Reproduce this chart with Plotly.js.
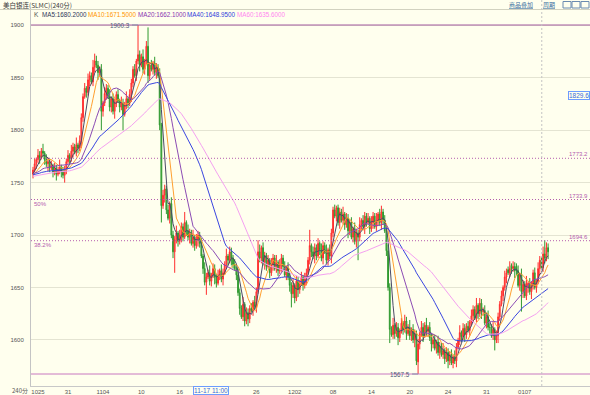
<!DOCTYPE html>
<html><head><meta charset="utf-8">
<script src="https://cdn.plot.ly/plotly-3.0.1.min.js"></script>
<style>html,body{margin:0;padding:0;background:#ffffee;}#chart{width:590px;height:395px;}</style>
</head><body><div id="chart"></div>
<script>
// ---- data (240-minute bars) ----
const histCloses = [1748,1752,1750,1755,1753,1758,1756,1760,1757,1754,
1750,1746,1749,1752,1756,1759,1755,1751,1748,1753,
1757,1761,1758,1755,1752,1756,1760,1763,1759,1755,
1751,1754,1758,1762,1760,1756,1752,1749,1753,1757,
1761,1764,1760,1757,1754,1758,1762,1765,1761,1758,
1755,1752,1756,1760,1758,1754,1757,1760,1758];

const opens = [1758,1762,1768,1772,1776,1774,1780,1778,1772,1768,
1770,1764,1766,1760,1763,1758,1762,1765,1760,1757,
1762,1770,1776,1773,1780,1784,1779,1786,1783,1790,
1812,1832,1840,1836,1848,1852,1846,1860,1866,1862,
1855,1858,1818,1826,1835,1840,1832,1822,1830,1818,
1826,1834,1828,1822,1826,1815,1824,1830,1826,1834,
1845,1858,1852,1866,1872,1862,1870,1858,1866,1880,
1852,1862,1858,1864,1855,1860,1852,1805,1728,1738,
1744,1724,1716,1730,1700,1684,1696,1702,1694,1700,
1708,1698,1712,1704,1698,1702,1692,1698,1690,1696,
1700,1692,1680,1668,1655,1660,1664,1656,1662,1668,
1660,1654,1662,1666,1658,1664,1672,1680,1676,1684,
1678,1672,1668,1662,1645,1630,1622,1634,1618,1626,
1620,1630,1628,1636,1632,1646,1684,1678,1688,1674,
1680,1670,1676,1664,1672,1678,1668,1674,1666,1672,
1678,1670,1662,1668,1660,1652,1644,1652,1640,1656,
1648,1654,1660,1652,1658,1664,1676,1690,1684,1680,
1688,1680,1692,1686,1678,1690,1684,1676,1686,1680,
1702,1724,1718,1726,1712,1722,1714,1720,1710,1716,
1704,1712,1698,1706,1694,1702,1698,1710,1714,1708,
1718,1712,1716,1706,1712,1718,1708,1714,1720,1712,
1722,1714,1704,1685,1650,1610,1605,1614,1606,1612,
1602,1608,1616,1610,1618,1606,1612,1604,1610,1600,
1606,1579,1596,1606,1612,1604,1614,1608,1612,1602,
1596,1600,1592,1598,1588,1594,1586,1590,1582,1588,
1580,1586,1578,1584,1580,1593,1599,1607,1603,1611,
1605,1613,1609,1617,1623,1629,1621,1633,1625,1635,
1627,1628,1616,1622,1612,1612,1604,1610,1600,1604,
1622,1634,1642,1650,1660,1667,1664,1671,1668,1670,
1670,1666,1652,1662,1646,1653,1642,1650,1654,1646,
1652,1664,1650,1656,1668,1676,1669,1682,1678,1688];

const highs = [1765,1773,1774,1782,1780,1783,1787,1780,1777,1774,
1773,1771,1768,1769,1767,1765,1772,1767,1765,1766,
1773,1781,1778,1786,1788,1787,1793,1788,1795,1816,
1835,1845,1842,1854,1856,1855,1867,1873,1871,1866,
1861,1863,1828,1841,1844,1843,1839,1832,1835,1830,
1837,1839,1830,1832,1830,1827,1837,1832,1839,1849,
1861,1863,1868,1900.3,1876,1873,1877,1868,1885,1898,
1865,1867,1866,1870,1864,1863,1859,1807,1743,1748,
1747,1729,1732,1736,1704,1699,1709,1704,1705,1712,
1711,1722,1714,1710,1706,1705,1705,1700,1701,1704,
1703,1697,1682,1674,1664,1667,1671,1664,1673,1672,
1663,1667,1668,1672,1668,1675,1687,1682,1689,1688,
1681,1677,1670,1668,1649,1633,1641,1636,1631,1630,
1633,1635,1638,1642,1650,1695,1691,1690,1693,1684,
1683,1681,1678,1678,1682,1681,1681,1676,1677,1682,
1681,1675,1670,1674,1664,1655,1659,1654,1661,1660,
1657,1665,1662,1664,1668,1679,1705,1692,1689,1692,
1691,1697,1694,1692,1694,1693,1691,1688,1691,1706,
1727,1729,1728,1729,1726,1725,1727,1722,1721,1720,
1715,1717,1708,1712,1706,1705,1717,1716,1719,1722,
1721,1721,1718,1718,1722,1721,1721,1722,1725,1728,
1725,1719,1706,1691,1654,1613,1621,1616,1617,1616,
1611,1621,1618,1624,1622,1615,1619,1612,1615,1610,
1609,1601,1608,1618,1616,1617,1621,1614,1617,1606,
1603,1605,1600,1604,1598,1597,1597,1592,1593,1592,
1589,1591,1586,1590,1597,1602,1614,1609,1616,1615,
1616,1618,1619,1629,1633,1632,1640,1635,1640,1639,
1631,1633,1624,1628,1616,1615,1617,1612,1609,1626,
1637,1647,1652,1666,1668,1670,1675,1673,1675,1674,
1673,1671,1664,1668,1657,1656,1661,1656,1659,1656,
1667,1669,1658,1674,1680,1679,1689,1695,1693,1692];

const lows = [1754,1760,1763,1769,1768,1772,1774,1767,1765,1761,
1760,1762,1755,1757,1752,1756,1758,1755,1754,1750,
1758,1768,1768,1770,1774,1777,1775,1778,1780,1783,
1808,1830,1831,1833,1842,1844,1842,1855,1859,1848,
1851,1800,1813,1823,1829,1830,1818,1817,1815,1811,
1822,1826,1817,1819,1800,1813,1820,1821,1823,1827,
1841,1850,1847,1863,1856,1860,1854,1853,1863,1845,
1848,1856,1853,1852,1849,1850,1800,1712,1725,1731,
1720,1714,1711,1697,1678,1664,1692,1689,1691,1693,
1694,1696,1699,1695,1692,1690,1688,1685,1687,1689,
1688,1678,1663,1652,1643,1658,1652,1651,1659,1653,
1650,1652,1657,1655,1652,1662,1668,1671,1673,1671,
1668,1666,1657,1642,1624,1620,1618,1613,1615,1613,
1616,1626,1623,1629,1626,1644,1674,1673,1671,1667,
1666,1668,1659,1661,1666,1666,1664,1661,1663,1665,
1666,1660,1657,1657,1646,1631,1640,1635,1637,1641,
1644,1652,1647,1649,1652,1662,1672,1679,1677,1673,
1676,1678,1681,1675,1672,1682,1672,1671,1677,1673,
1698,1716,1713,1709,1706,1712,1710,1705,1707,1697,
1700,1696,1693,1691,1688,1676,1694,1705,1705,1701,
1708,1710,1701,1703,1706,1706,1704,1709,1709,1705,
1710,1702,1680,1647,1597,1603,1601,1601,1603,1595,
1598,1606,1605,1607,1600,1604,1600,1599,1597,1593,
1576,1567.5,1591,1603,1598,1602,1604,1603,1599,1589,
1592,1590,1587,1585,1582,1584,1582,1577,1579,1573,
1576,1576,1573,1577,1574,1591,1595,1598,1600,1598,
1601,1607,1604,1614,1617,1619,1617,1620,1622,1620,
1623,1614,1611,1609,1606,1602,1600,1590,1597,1597,
1618,1632,1637,1647,1654,1662,1660,1663,1665,1659,
1662,1650,1647,1627,1640,1640,1638,1645,1643,1639,
1648,1648,1645,1653,1662,1667,1665,1673,1675,1677];

const closes = [1762,1768,1772,1776,1774,1780,1778,1772,1768,1770,
1764,1766,1760,1763,1758,1762,1765,1760,1757,1762,
1770,1776,1773,1780,1784,1779,1786,1783,1790,1812,
1832,1840,1836,1848,1852,1846,1860,1866,1862,1855,
1858,1818,1826,1835,1840,1832,1822,1830,1818,1826,
1834,1828,1822,1826,1815,1824,1830,1826,1834,1845,
1858,1852,1866,1872,1862,1870,1858,1866,1880,1852,
1862,1858,1864,1855,1860,1852,1805,1728,1738,1744,
1724,1716,1730,1700,1684,1696,1702,1694,1700,1708,
1698,1712,1704,1698,1702,1692,1698,1690,1696,1700,
1692,1680,1668,1655,1660,1664,1656,1662,1668,1660,
1654,1662,1666,1658,1664,1672,1680,1676,1684,1678,
1672,1668,1662,1645,1630,1622,1634,1618,1626,1620,
1630,1628,1636,1632,1646,1684,1678,1688,1674,1680,
1670,1676,1664,1672,1678,1668,1674,1666,1672,1678,
1670,1662,1668,1660,1652,1644,1652,1640,1656,1648,
1654,1660,1652,1658,1664,1676,1690,1684,1680,1688,
1680,1692,1686,1678,1690,1684,1676,1686,1680,1702,
1724,1718,1726,1712,1722,1714,1720,1710,1716,1704,
1712,1698,1706,1694,1702,1698,1710,1714,1708,1718,
1712,1716,1706,1712,1718,1708,1714,1720,1712,1722,
1714,1704,1685,1650,1610,1605,1614,1606,1612,1602,
1608,1616,1610,1618,1606,1612,1604,1610,1600,1606,
1580,1596,1606,1612,1604,1614,1608,1612,1602,1596,
1600,1592,1598,1588,1594,1586,1590,1582,1588,1580,
1586,1578,1584,1580,1593,1599,1607,1603,1611,1605,
1613,1609,1617,1623,1629,1621,1633,1625,1635,1627,
1628,1616,1622,1612,1612,1604,1610,1600,1604,1622,
1634,1642,1650,1660,1664,1664,1668,1668,1670,1666,
1666,1652,1662,1646,1653,1642,1654,1654,1646,1652,
1664,1650,1656,1668,1676,1669,1682,1678,1688,1684];

const tickBars   = [3, 21, 42, 65, 88, 134, 157, 180, 203, 226, 249, 272, 295];
const tickLabels = ['1025','31','1104','10','16','26','1202','08','14','20','24','31','0107'];

const maPeriods = [5, 10, 20, 40, 60];
const maLegend  = ['MA5:1680.2000','MA10:1671.5000','MA20:1662.1000','MA40:1648.9500','MA60:1635.6000'];

const highValue = 1900.3, lowValue = 1567.5;
const fibLevels = [1773.2, 1733.9, 1694.6];
const fibLabels = ['', '50%', '38.2%'];
const highBar = 63, lowBar = 231, crossBar = 305.2;
const crossPrice = '1829.6', crossTime = '11-17 11:00';

// ---- build ----
const bars = closes.map((_, i) => i);
const all = histCloses.concat(closes);
function movingAverage(n) {
  return closes.map((_, i) => {
    const end = i + histCloses.length;
    let s = 0;
    for (let k = end - n + 1; k <= end; k++) s += all[k];
    return s / n;
  });
}
const maLineColors = ['#4a4a66', '#ffa030', '#8c4cb4', '#3a46e0', '#f4a0f0'];
const maTextColors = ['#2e3858', '#ff9500', '#8a36b0', '#3040dc', '#ff86ee'];

const traces = [{
  type: 'candlestick', x: bars, open: opens, high: highs, low: lows, close: closes,
  increasing: {line: {color: '#ff2e2e', width: 1}, fillcolor: '#ff7a7a'},
  decreasing: {line: {color: '#2e992e', width: 1}, fillcolor: '#74bd6a'},
  whiskerwidth: 0, hoverinfo: 'skip', showlegend: false
}];
maPeriods.forEach((n, k) => traces.push({
  type: 'scatter', mode: 'lines', x: bars, y: movingAverage(n),
  line: {color: maLineColors[k], width: 1}, hoverinfo: 'skip', showlegend: false
}));

const W = 590, H = 395, ML = 31, MT = 10, MB = 9;
const PW = W - ML, PH = H - MT - MB;
const px = x => (x - ML) / PW;
const py = y => (H - MB - y) / PH;
const small = {family: 'Liberation Sans, Arial, sans-serif', size: 6, color: '#555555'};
const fibColor = '#b45cae';

const annotations = [
  {text: '美白银连(SLMC)(240分)', xref: 'paper', yref: 'paper', x: px(1), y: py(5), xanchor: 'left', yanchor: 'middle', showarrow: false,
   font: {family: 'Noto Sans CJK SC', size: 6.5, color: '#3a3a3a'}},
  {text: '<span style="text-decoration:underline">商品叠加</span>', xref: 'paper', yref: 'paper', x: px(507), y: py(5), xanchor: 'left', yanchor: 'middle', showarrow: false,
   font: {family: 'Noto Sans CJK SC', size: 6, color: '#3b6fa0'}},
  {text: '<span style="text-decoration:underline">周期</span>', xref: 'paper', yref: 'paper', x: px(541), y: py(5), xanchor: 'left', yanchor: 'middle', showarrow: false,
   font: {family: 'Noto Sans CJK SC', size: 6, color: '#3b6fa0'}},
  {text: 'K', xref: 'paper', yref: 'paper', x: px(32), y: py(14.5), xanchor: 'left', yanchor: 'middle', showarrow: false,
   font: {family: 'Liberation Sans', size: 6.5, color: '#555'}}
];
const legendX = [40, 86, 136, 185, 235];
maLegend.forEach((t, k) => annotations.push({text: t, xref: 'paper', yref: 'paper', x: px(legendX[k]), y: py(14.5),
  xanchor: 'left', yanchor: 'middle', showarrow: false, font: {family: 'Liberation Sans', size: 6.3, color: maTextColors[k]}}));

annotations.push({text: String(highValue), xref: 'x', yref: 'y', x: highBar, y: highValue, showarrow: true, arrowhead: 0, arrowwidth: 1,
  arrowcolor: '#8890a8', ax: -6, ay: 0, xanchor: 'right', yanchor: 'middle', font: {family: 'Liberation Sans', size: 6.3, color: '#4d5a78'}});
annotations.push({text: String(lowValue), xref: 'x', yref: 'y', x: lowBar, y: lowValue, showarrow: true, arrowhead: 0, arrowwidth: 1,
  arrowcolor: '#8890a8', ax: -6, ay: 0, xanchor: 'right', yanchor: 'middle', font: {family: 'Liberation Sans', size: 6.3, color: '#4d5a78'}});

fibLevels.forEach((v, k) => {
  annotations.push({text: v.toFixed(1), xref: 'paper', yref: 'y', x: px(589), y: v, xanchor: 'right', yanchor: 'bottom', showarrow: false,
    borderpad: 0, font: {family: 'Liberation Sans', size: 6, color: fibColor}});
  if (fibLabels[k]) annotations.push({text: fibLabels[k], xref: 'paper', yref: 'y', x: px(33), y: v, xanchor: 'left', yanchor: 'top', showarrow: false,
    borderpad: 0, font: {family: 'Liberation Sans', size: 6, color: fibColor}});
});

annotations.push({text: crossPrice, xref: 'paper', yref: 'y', x: px(589.5), y: 1833.5, xanchor: 'right', yanchor: 'middle', showarrow: false,
  bordercolor: '#6d9cff', borderwidth: 1, borderpad: 0, bgcolor: '#ffffee', font: {family: 'Liberation Sans', size: 6.5, color: '#3a6ad8'}});
annotations.push({text: crossTime, xref: 'paper', yref: 'paper', x: px(211), y: py(390), xanchor: 'center', yanchor: 'middle', showarrow: false,
  bordercolor: '#6d9cff', borderwidth: 1, borderpad: 0, bgcolor: '#ffffee', font: {family: 'Liberation Sans', size: 6.5, color: '#3a6ad8'}});
annotations.push({text: '240分', xref: 'paper', yref: 'paper', x: px(30), y: py(390), xanchor: 'right', yanchor: 'middle', showarrow: false,
  font: {family: 'Noto Sans CJK SC', size: 6, color: '#555'}});

const shapes = [
  {type: 'line', xref: 'paper', yref: 'paper', x0: px(0), x1: 1, y0: py(9.5), y1: py(9.5), line: {color: '#d2d2c0', width: 1}},
  {type: 'line', xref: 'paper', yref: 'y', x0: 0, x1: 1, y0: highValue, y1: highValue, line: {color: '#a35aa0', width: 1}},
  {type: 'line', xref: 'paper', yref: 'y', x0: 0, x1: 1, y0: lowValue, y1: lowValue, line: {color: '#c878c0', width: 1}},
  {type: 'line', xref: 'x', yref: 'paper', x0: crossBar, x1: crossBar, y0: 0, y1: py(0), line: {color: '#c4c4c4', width: 1, dash: '2px,2px'}}
];
fibLevels.forEach(v => shapes.push({type: 'line', xref: 'paper', yref: 'y', x0: 0, x1: 1, y0: v, y1: v,
  line: {color: fibColor, width: 1, dash: '1px,2px'}}));
[[563, 571], [572, 580], [581, 589]].forEach(([a, b]) => shapes.push({type: 'rect', xref: 'paper', yref: 'paper',
  x0: px(a), x1: px(b), y0: py(8), y1: py(1.5), line: {color: '#6b8bb0', width: 1}, fillcolor: 'rgba(0,0,0,0)'}));

const stepPx = 1.667, firstPx = 33;
const layout = {
  width: W, height: H, margin: {l: ML, r: 0, t: MT, b: MB, pad: 0},
  paper_bgcolor: '#ffffee', plot_bgcolor: '#ffffee', showlegend: false, hovermode: false, dragmode: false,
  xaxis: {type: 'linear', range: [(ML - firstPx) / stepPx, (W - firstPx) / stepPx], rangeslider: {visible: false},
    tickmode: 'array', tickvals: tickBars, ticktext: tickLabels, ticks: '', showgrid: false, zeroline: false,
    showline: true, linecolor: '#c8c8c8', linewidth: 1, tickfont: small, fixedrange: true},
  yaxis: {range: [1556.06, 1914.6], tick0: 1600, dtick: 50, ticks: 'outside', ticklen: 5, tickcolor: 'rgba(0,0,0,0)',
    showgrid: true, gridcolor: '#e4e4d2', gridwidth: 1, zeroline: false, showline: true, linecolor: '#c4c4c4', linewidth: 1,
    tickfont: small, fixedrange: true},
  annotations: annotations, shapes: shapes
};
Plotly.newPlot('chart', traces, layout, {displayModeBar: false, staticPlot: true});
</script></body></html>
